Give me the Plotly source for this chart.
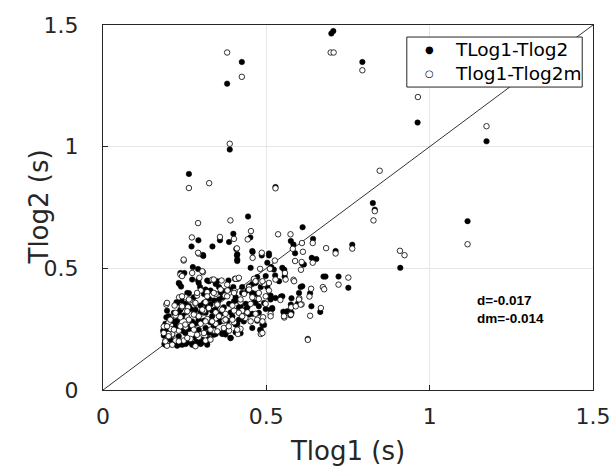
import plotly.graph_objects as go

# TLog1-Tlog2 (filled markers)
tlog1_a = [0.699, 0.705, 0.425, 0.380, 0.794, 0.963, 1.174, 0.388, 0.263, 0.528, 1.116, 0.826, 0.832,
	0.444, 0.611, 0.910, 0.763, 0.575, 0.583, 0.643, 0.712, 0.588, 0.639, 0.653, 0.610, 0.555, 0.556,
	0.675, 0.681, 0.721, 0.751, 0.605, 0.634, 0.577, 0.545, 0.596, 0.638, 0.665, 0.552, 0.574, 0.627,
	0.527, 0.508, 0.515, 0.486, 0.458, 0.451, 0.410, 0.411, 0.408, 0.399, 0.386, 0.358, 0.335, 0.307,
	0.292, 0.271, 0.275, 0.291, 0.249, 0.234, 0.239, 0.291, 0.297, 0.319, 0.345, 0.355, 0.384, 0.399,
	0.406, 0.365, 0.340, 0.325, 0.299, 0.268, 0.263, 0.240, 0.225, 0.196, 0.194, 0.191, 0.186, 0.188,
	0.212, 0.237, 0.253, 0.273, 0.288, 0.304, 0.324, 0.345, 0.365, 0.375, 0.391, 0.406, 0.421, 0.411,
	0.381, 0.355, 0.329, 0.309, 0.283, 0.263, 0.242, 0.222, 0.227, 0.247, 0.278, 0.299, 0.334, 0.360,
	0.391, 0.416, 0.442, 0.462, 0.467, 0.483, 0.503, 0.513, 0.498, 0.518, 0.493, 0.481, 0.472, 0.457,
	0.437, 0.411, 0.442, 0.457, 0.472, 0.457, 0.426, 0.452, 0.503, 0.184, 0.212, 0.232, 0.253, 0.278,
	0.309, 0.329, 0.360, 0.386, 0.370, 0.319, 0.258, 0.278, 0.299, 0.319, 0.227]
tlog2_a = [1.465, 1.475, 1.348, 1.259, 1.348, 1.099, 1.022, 0.988, 0.888, 0.834, 0.694, 0.768, 0.741,
	0.713, 0.669, 0.502, 0.597, 0.612, 0.598, 0.621, 0.571, 0.562, 0.543, 0.538, 0.519, 0.494, 0.466,
	0.466, 0.466, 0.466, 0.420, 0.423, 0.398, 0.377, 0.384, 0.354, 0.344, 0.321, 0.322, 0.307, 0.210,
	0.471, 0.553, 0.505, 0.553, 0.567, 0.627, 0.553, 0.530, 0.579, 0.642, 0.608, 0.615, 0.590, 0.551,
	0.615, 0.590, 0.505, 0.497, 0.481, 0.436, 0.425, 0.450, 0.423, 0.450, 0.436, 0.423, 0.450, 0.423,
	0.381, 0.381, 0.368, 0.374, 0.347, 0.333, 0.398, 0.368, 0.361, 0.326, 0.299, 0.272, 0.224, 0.189,
	0.192, 0.189, 0.189, 0.192, 0.203, 0.196, 0.210, 0.230, 0.230, 0.228, 0.214, 0.237, 0.233, 0.272,
	0.285, 0.278, 0.278, 0.285, 0.272, 0.251, 0.244, 0.258, 0.285, 0.306, 0.313, 0.319, 0.326, 0.313,
	0.319, 0.340, 0.340, 0.361, 0.395, 0.423, 0.423, 0.388, 0.333, 0.333, 0.267, 0.247, 0.285, 0.313,
	0.354, 0.368, 0.409, 0.436, 0.464, 0.395, 0.423, 0.502, 0.523, 0.244, 0.285, 0.319, 0.354, 0.381,
	0.395, 0.409, 0.402, 0.354, 0.340, 0.340, 0.196, 0.186, 0.189, 0.196, 0.182]
# more filled points read from the dense cluster
tlog1_a_cluster = [0.237, 0.232, 0.273, 0.258, 0.293, 0.314, 0.324, 0.350, 0.370, 0.355, 0.385, 0.401,
	0.421, 0.436, 0.457, 0.467, 0.477, 0.503, 0.513, 0.523, 0.539, 0.549, 0.564, 0.575, 0.600, 0.610,
	0.615, 0.549, 0.498, 0.467, 0.447, 0.426, 0.411, 0.411, 0.457, 0.306, 0.508, 0.201, 0.217, 0.222,
	0.196, 0.206, 0.232, 0.252, 0.263, 0.283, 0.304, 0.324, 0.339, 0.365, 0.380, 0.390, 0.360, 0.334,
	0.314, 0.293, 0.273, 0.247, 0.237, 0.227, 0.263, 0.283, 0.309, 0.329, 0.345, 0.396, 0.416, 0.431,
	0.457, 0.483, 0.488, 0.314, 0.293, 0.268, 0.212, 0.191, 0.222, 0.242, 0.273, 0.293, 0.319, 0.339,
	0.426, 0.447, 0.406, 0.477, 0.493, 0.513, 0.528, 0.554, 0.577, 0.518]
tlog2_a_cluster = [0.481, 0.440, 0.454, 0.399, 0.440, 0.413, 0.447, 0.447, 0.406, 0.372, 0.413, 0.365,
	0.344, 0.330, 0.399, 0.358, 0.317, 0.385, 0.330, 0.495, 0.447, 0.385, 0.324, 0.351, 0.399, 0.426,
	0.516, 0.502, 0.468, 0.440, 0.426, 0.399, 0.558, 0.536, 0.571, 0.555, 0.561, 0.303, 0.317, 0.276,
	0.248, 0.207, 0.221, 0.234, 0.200, 0.214, 0.207, 0.234, 0.262, 0.234, 0.241, 0.214, 0.282, 0.303,
	0.317, 0.289, 0.282, 0.303, 0.330, 0.358, 0.344, 0.330, 0.358, 0.351, 0.330, 0.303, 0.289, 0.282,
	0.255, 0.248, 0.269, 0.255, 0.248, 0.262, 0.234, 0.186, 0.193, 0.186, 0.186, 0.193, 0.186, 0.227,
	0.317, 0.310, 0.269, 0.344, 0.358, 0.372, 0.378, 0.317, 0.317, 0.337]

# Tlog1-Tlog2m (open markers)
tlog1_b = [0.697, 0.706, 0.380, 0.425, 0.794, 0.964, 1.174, 0.388, 0.263, 0.325, 0.528, 0.847, 1.116,
	0.828, 0.832, 0.291, 0.390, 0.909, 0.923, 0.627, 0.763, 0.536, 0.574, 0.581, 0.642, 0.683, 0.712,
	0.609, 0.612, 0.588, 0.642, 0.608, 0.606, 0.557, 0.583, 0.673, 0.677, 0.721, 0.751, 0.637, 0.632,
	0.601, 0.543, 0.608, 0.576, 0.667, 0.555, 0.634, 0.526, 0.511, 0.486, 0.481, 0.458, 0.453, 0.443,
	0.410, 0.401, 0.358, 0.293, 0.272, 0.247, 0.306, 0.237, 0.295, 0.299, 0.334, 0.363, 0.404, 0.413,
	0.403, 0.373, 0.350, 0.314, 0.283, 0.260, 0.253, 0.233, 0.219, 0.194, 0.201, 0.207, 0.191, 0.196,
	0.222, 0.247, 0.268, 0.293, 0.314, 0.340, 0.386, 0.413, 0.421, 0.401, 0.370, 0.345, 0.319, 0.299,
	0.273, 0.253, 0.232, 0.212, 0.237, 0.258, 0.288, 0.309, 0.345, 0.375, 0.401, 0.426, 0.452, 0.457,
	0.477, 0.493, 0.508, 0.498, 0.513, 0.490, 0.483, 0.467, 0.442, 0.421, 0.447, 0.462, 0.483, 0.432,
	0.186, 0.201, 0.222, 0.242, 0.266, 0.288, 0.319, 0.345, 0.381, 0.396, 0.360]
tlog2_b = [1.387, 1.387, 1.387, 1.287, 1.314, 1.204, 1.084, 1.012, 0.830, 0.850, 0.829, 0.901, 0.599,
	0.697, 0.735, 0.686, 0.697, 0.572, 0.554, 0.206, 0.581, 0.640, 0.640, 0.580, 0.604, 0.583, 0.561,
	0.604, 0.568, 0.530, 0.523, 0.526, 0.494, 0.481, 0.453, 0.423, 0.414, 0.433, 0.462, 0.416, 0.384,
	0.377, 0.370, 0.352, 0.340, 0.337, 0.298, 0.305, 0.532, 0.498, 0.564, 0.498, 0.543, 0.653, 0.619,
	0.582, 0.621, 0.629, 0.560, 0.627, 0.532, 0.484, 0.474, 0.461, 0.409, 0.453, 0.450, 0.457, 0.457,
	0.406, 0.388, 0.354, 0.361, 0.354, 0.340, 0.381, 0.381, 0.347, 0.351, 0.278, 0.251, 0.203, 0.182,
	0.203, 0.203, 0.210, 0.217, 0.203, 0.244, 0.244, 0.230, 0.251, 0.278, 0.285, 0.272, 0.292, 0.272,
	0.265, 0.258, 0.244, 0.230, 0.299, 0.299, 0.306, 0.326, 0.319, 0.313, 0.326, 0.326, 0.354, 0.381,
	0.374, 0.436, 0.409, 0.354, 0.313, 0.299, 0.230, 0.313, 0.319, 0.361, 0.423, 0.457, 0.443, 0.395,
	0.261, 0.230, 0.306, 0.340, 0.368, 0.388, 0.402, 0.395, 0.409, 0.347, 0.333]
# more open points read from the dense cluster
tlog1_b_cluster = [0.291, 0.247, 0.242, 0.273, 0.304, 0.339, 0.380, 0.406, 0.416, 0.401, 0.421, 0.447,
	0.467, 0.488, 0.508, 0.528, 0.559, 0.585, 0.600, 0.605, 0.590, 0.554, 0.575, 0.513, 0.488, 0.472,
	0.452, 0.436, 0.416, 0.396, 0.375, 0.355, 0.334, 0.314, 0.293, 0.278, 0.258, 0.242, 0.222, 0.196,
	0.206, 0.196, 0.186, 0.201, 0.217, 0.237, 0.252, 0.263, 0.278, 0.288, 0.309, 0.329, 0.350, 0.370,
	0.385, 0.411, 0.426, 0.365, 0.350, 0.324, 0.304, 0.283, 0.263, 0.242, 0.288, 0.319, 0.339, 0.360,
	0.380, 0.191, 0.212, 0.232, 0.258, 0.283, 0.329, 0.488, 0.498, 0.477]
tlog2_b_cluster = [0.564, 0.536, 0.468, 0.481, 0.488, 0.454, 0.433, 0.457, 0.461, 0.399, 0.372, 0.413,
	0.447, 0.447, 0.440, 0.454, 0.454, 0.447, 0.372, 0.351, 0.344, 0.303, 0.310, 0.303, 0.282, 0.289,
	0.282, 0.296, 0.317, 0.289, 0.289, 0.303, 0.282, 0.282, 0.303, 0.310, 0.324, 0.344, 0.317, 0.358,
	0.289, 0.262, 0.234, 0.221, 0.248, 0.262, 0.269, 0.289, 0.248, 0.227, 0.234, 0.248, 0.241, 0.255,
	0.262, 0.248, 0.303, 0.330, 0.351, 0.337, 0.330, 0.358, 0.372, 0.385, 0.399, 0.385, 0.399, 0.413,
	0.385, 0.200, 0.186, 0.200, 0.214, 0.180, 0.207, 0.234, 0.385, 0.399]

series_names = ['TLog1-Tlog2', 'Tlog1-Tlog2m']
ticks = [0, 0.5, 1, 1.5]
tick_labels = ['0', '0.5', '1', '1.5']
stats_text = '<b>d=-0.017<br>dm=-0.014</b>'

FONT = 'DejaVu Sans'
TEXT_COLOR = '#262626'

fig = go.Figure()
fig.add_trace(go.Scatter(
	x = [0, 1.5],
	y = [0, 1.5],
	mode = 'lines',
	line = dict(color = '#333333', width = 1),
	showlegend = False,
	hoverinfo = 'skip',
))
fig.add_trace(go.Scatter(
	x = tlog1_a + tlog1_a_cluster,
	y = tlog2_a + tlog2_a_cluster,
	mode = 'markers',
	name = series_names[0],
	showlegend = False,
	marker = dict(size = 5.5, color = 'black', line = dict(color = 'black', width = 0.5)),
))
fig.add_trace(go.Scatter(
	x = tlog1_b + tlog1_b_cluster,
	y = tlog2_b + tlog2_b_cluster,
	mode = 'markers',
	name = series_names[1],
	showlegend = False,
	marker = dict(size = 5.5, color = 'white', line = dict(color = 'black', width = 0.8)),
))

# legend drawn by hand: plotly's own legend rows are too far apart for this one
fig.add_shape(
	type = 'rect', xref = 'x domain', yref = 'y domain',
	x0 = 0.620, x1 = 0.978, y0 = 0.830, y1 = 0.967,
	line = dict(color = TEXT_COLOR, width = 1),
	fillcolor = 'white',
	layer = 'above',
)
for k, (symbol, name) in enumerate(zip(['●', '○'], series_names)):
	row_y = 0.932 - k*0.066
	fig.add_annotation(
		x = 0.667, y = row_y, xref = 'x domain', yref = 'y domain',
		text = symbol, showarrow = False, xanchor = 'center', yanchor = 'middle',
		font = dict(family = FONT, size = 10, color = 'black'),
	)
	fig.add_annotation(
		x = 0.715, y = row_y, xref = 'x domain', yref = 'y domain',
		text = name, showarrow = False, xanchor = 'left', yanchor = 'middle',
		font = dict(family = FONT, size = 18.5, color = 'black'),
	)

fig.add_annotation(
	x = 1.14,
	y = 0.33,
	xref = 'x',
	yref = 'y',
	text = stats_text,
	showarrow = False,
	xanchor = 'left',
	yanchor = 'middle',
	align = 'left',
	font = dict(family = 'Liberation Sans', size = 13.5, color = 'black'),
)
# y title as a rotated annotation, MATLAB puts it closer than plotly's title would go
fig.add_annotation(
	x = 0,
	y = 0.5,
	xref = 'paper',
	yref = 'paper',
	xshift = -65,
	text = 'Tlog2 (s)',
	textangle = -90,
	showarrow = False,
	xanchor = 'center',
	yanchor = 'middle',
	font = dict(family = FONT, size = 26, color = TEXT_COLOR),
)

axis_style = dict(
	range = [0, 1.5],
	tickvals = ticks,
	ticktext = tick_labels,
	showgrid = True,
	gridcolor = '#e6e6e6',
	gridwidth = 1,
	zeroline = False,
	showline = True,
	linecolor = TEXT_COLOR,
	linewidth = 1,
	mirror = True,
	ticks = 'inside',
	ticklen = 5,
	tickcolor = TEXT_COLOR,
	tickfont = dict(family = FONT, size = 22, color = TEXT_COLOR),
	automargin = False,
	ticklabeloverflow = 'allow',
)

fig.update_layout(
	width = 616,
	height = 466,
	margin = dict(l = 103, r = 23, t = 25, b = 76),
	paper_bgcolor = 'white',
	plot_bgcolor = 'white',
	font = dict(family = FONT, color = TEXT_COLOR),
	xaxis = dict(axis_style, ticklabelstandoff = 7, title = dict(text = 'Tlog1 (s)', font = dict(family = FONT, size = 26, color = TEXT_COLOR), standoff = 16)),
	yaxis = dict(axis_style, ticklabelstandoff = 19),
)

# drop the page's default 8px body margin so the figure fills the window
fig.write_html(
	'out.html',
	config = {'displayModeBar': False},
	post_script = "document.body.style.margin = '0';",
)
